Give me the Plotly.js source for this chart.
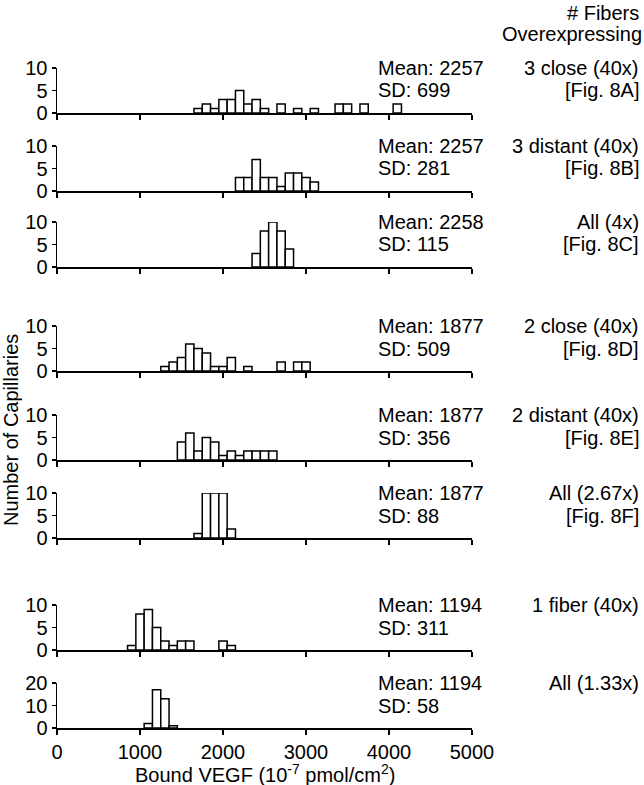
<!DOCTYPE html>
<html><head><meta charset="utf-8">
<script src="https://cdn.plot.ly/plotly-3.0.1.min.js"></script>
<style>html,body{margin:0;padding:0;background:#fff}</style>
</head><body><div id="chart" style="width:644px;height:785px"></div>
<script>
// ---- data (bin centres, counts) ----
const bins1 = [1700,1800,1900,2000,2100,2200,2300,2400,2500,2700,2900,3100,3400,3500,3700,4100];
const counts1 = [1,2,1,3,3,5,2,3,1,2,1,1,2,2,2,2];
const bins2 = [2200,2300,2400,2500,2600,2700,2800,2900,3000,3100];
const counts2 = [3,3,7,3,3,1,4,4,3,2];
const bins3 = [2400,2500,2600,2700,2800];
const counts3 = [3,8,10,8,4];
const bins4 = [1300,1400,1500,1600,1700,1800,1900,2000,2100,2300,2700,2900,3000];
const counts4 = [1,2,3,6,5,4,1,1,3,1,2,2,2];
const bins5 = [1500,1600,1700,1800,1900,2000,2100,2200,2300,2400,2500,2600];
const counts5 = [4,6,2,5,4,1,2,1,2,2,2,2];
const bins6 = [1700,1800,1900,2000,2100];
const counts6 = [1,10,10,10,2];
const bins7 = [900,1000,1100,1200,1300,1400,1500,1600,2000,2100];
const counts7 = [1,8,9,5,2,1,2,2,2,1];
const bins8 = [1100,1200,1300,1400];
const counts8 = [2,17,13,1];

const meanLabels = ['Mean: 2257','Mean: 2257','Mean: 2258','Mean: 1877','Mean: 1877','Mean: 1877','Mean: 1194','Mean: 1194'];
const sdLabels = ['SD: 699','SD: 281','SD: 115','SD: 509','SD: 356','SD: 88','SD: 311','SD: 58'];
const caseLabels = ['3 close (40x)','3 distant (40x)','All (4x)','2 close (40x)','2 distant (40x)','All (2.67x)','1 fiber (40x)','All (1.33x)'];
const figLabels = ['[Fig. 8A]','[Fig. 8B]','[Fig. 8C]','[Fig. 8D]','[Fig. 8E]','[Fig. 8F]','',''];
const yMax = [10,10,10,10,10,10,10,20];
const xTicks = [0,1000,2000,3000,4000,5000];
const xTitle = 'Bound VEGF (10<sup>-7</sup> pmol/cm<sup>2</sup>)';
const yTitle = 'Number of Capillaries';
const headerLines = ['# Fibers','Overexpressing'];

const allBins = [bins1,bins2,bins3,bins4,bins5,bins6,bins7,bins8];
const allCounts = [counts1,counts2,counts3,counts4,counts5,counts6,counts7,counts8];

// ---- layout ----
const W = 644, H = 785;
const FONT = 'Liberation Sans, Arial, sans-serif';
const axisPx = [113,191,267,371,460,538,650,728];
const panelH = 45;
const xDom = [57/W, 472/W];
const txt = {size: 20, family: FONT, color: '#000'};

const traces = [];
const layout = {
  width: W, height: H,
  margin: {l:0, r:0, t:0, b:0},
  paper_bgcolor: '#fff', plot_bgcolor: '#fff',
  showlegend: false,
  font: txt,
  bargap: 0,
  annotations: []
};

for (let i = 0; i < 8; i++) {
  const n = i + 1;
  const xa = n === 1 ? 'x' : 'x' + n;
  const ya = n === 1 ? 'y' : 'y' + n;
  traces.push({
    type: 'bar', x: allBins[i], y: allCounts[i], width: 100,
    xaxis: xa, yaxis: ya,
    marker: {color: '#fff', line: {color: '#000', width: 1.5}},
    hoverinfo: 'skip'
  });
  const bottom = 1 - axisPx[i] / H;
  const top = 1 - (axisPx[i] - panelH) / H;
  layout['xaxis' + (n === 1 ? '' : n)] = {
    domain: xDom, range: [0, 5000], anchor: ya,
    tickvals: xTicks, ticktext: xTicks.map(String),
    ticks: 'outside', ticklen: 5, tickwidth: 1.5, tickcolor: '#000',
    showline: true, linecolor: '#000', linewidth: 1.5,
    showgrid: false, zeroline: false, showticklabels: n === 8,
    tickfont: txt, fixedrange: true
  };
  const yv = yMax[i] === 20 ? [0,10,20] : [0,5,10];
  layout['yaxis' + (n === 1 ? '' : n)] = {
    domain: [bottom, top], range: [0, yMax[i]], anchor: xa,
    tickvals: yv, ticktext: yv.map(String),
    ticks: 'outside', ticklen: 4, tickwidth: 1.5, tickcolor: '#000',
    showline: true, linecolor: '#000', linewidth: 1.5,
    showgrid: false, zeroline: false,
    tickfont: txt, fixedrange: true
  };
  layout.annotations.push({xref:'paper', yref: ya, x: 376/W, y: yMax[i], text: meanLabels[i],
    xanchor:'left', yanchor:'middle', showarrow:false, font: txt});
  layout.annotations.push({xref:'paper', yref: ya, x: 376/W, y: yMax[i]/2, text: sdLabels[i],
    xanchor:'left', yanchor:'middle', showarrow:false, font: txt});
  layout.annotations.push({xref:'paper', yref: ya, x: 641/W, y: yMax[i], text: caseLabels[i],
    xanchor:'right', yanchor:'middle', showarrow:false, font: txt});
  if (figLabels[i]) {
    layout.annotations.push({xref:'paper', yref: ya, x: 641/W, y: yMax[i]/2, text: figLabels[i],
      xanchor:'right', yanchor:'middle', showarrow:false, font: txt});
  }
}

// x title, header and y title
layout.annotations.push({xref:'paper', yref:'paper', x: (xDom[0]+xDom[1])/2, y: 1 - 773/H, text: xTitle,
  xanchor:'center', yanchor:'middle', showarrow:false, font: txt});
layout.annotations.push({xref:'paper', yref:'paper', x: 641/W, y: 1 - 13/H, text: headerLines[0],
  xanchor:'right', yanchor:'middle', showarrow:false, font: txt});
layout.annotations.push({xref:'paper', yref:'paper', x: 644/W, y: 1 - 34/H, text: headerLines[1],
  xanchor:'right', yanchor:'middle', showarrow:false, font: txt});
layout.annotations.push({xref:'paper', yref:'paper', x: 11/W, y: 1 - 430/H, text: yTitle,
  textangle: -90, xanchor:'center', yanchor:'middle', showarrow:false, font: txt});

Plotly.newPlot('chart', traces, layout, {displayModeBar:false, staticPlot:true});
</script></body></html>
